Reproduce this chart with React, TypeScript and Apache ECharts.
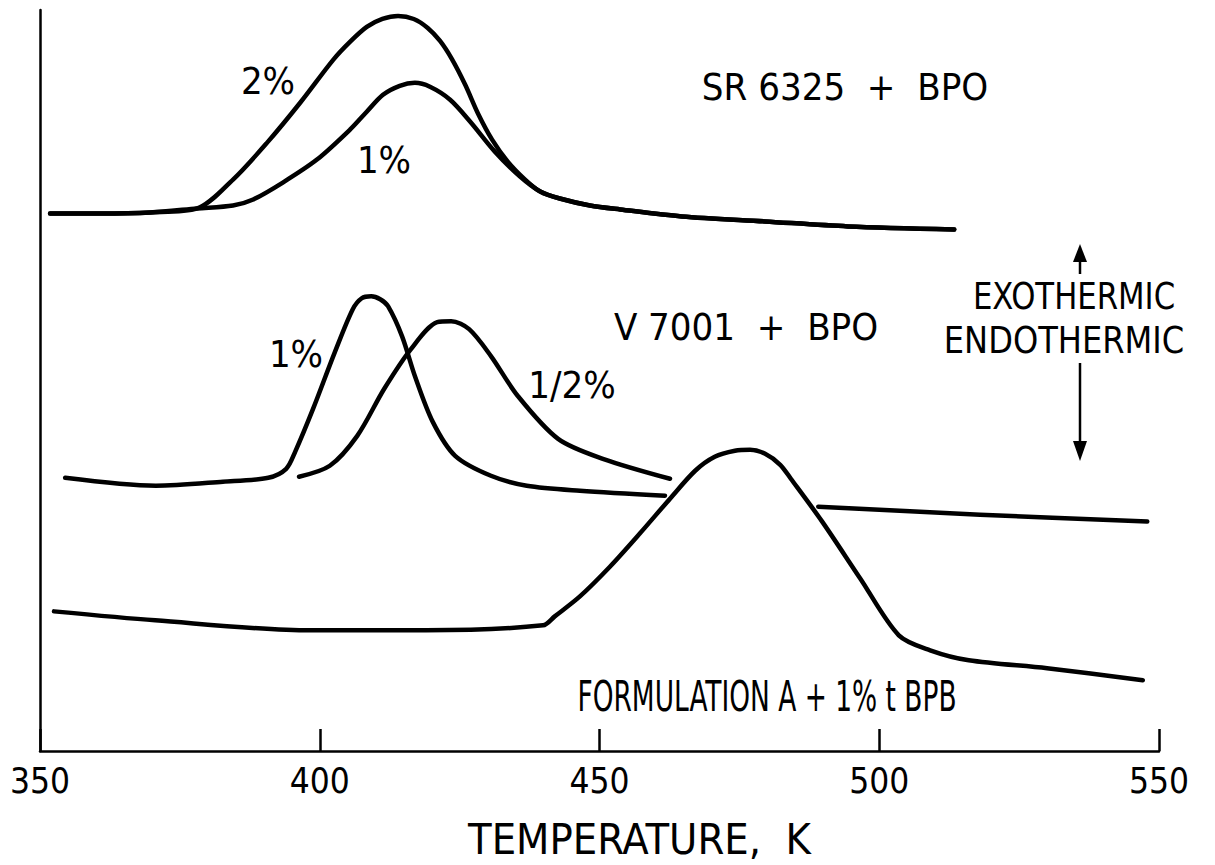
import React, { useEffect, useRef } from "react";
import * as echarts from "echarts";

// Temperature axis ticks (K)
const xTicks = [350, 400, 450, 500, 550];

// SR 6325 + BPO, 2% and 1%  [temperature K, deflection (arb. units)]
const sr2: number[][] = [
  [351.8, 539], [360.7, 539], [369.7, 540], [378.1, 544], [384.5, 573], [390.6, 610],
  [396.5, 650], [402.4, 693], [405.4, 711], [408.4, 726], [411.2, 734], [414.0, 737],
  [416.8, 734], [419.3, 725], [421.5, 712], [423.6, 694], [426.0, 668], [428.3, 639],
  [430.8, 613], [433.6, 591], [436.7, 573], [439.4, 561],
  [442.9, 554], [448.3, 547], [453.7, 543], [464.7, 536], [479.6, 531], [494.4, 526], [513.4, 523],
];
const sr1: number[][] = [
  [351.8, 539], [360.7, 539], [369.7, 540], [378.1, 544], [384.5, 547], [388.1, 553],
  [393.4, 570], [399.5, 593], [405.4, 623], [408.4, 641], [411.3, 658], [414.3, 667],
  [417.0, 670], [419.7, 666], [423.3, 653], [426.9, 631], [431.3, 601], [435.8, 576],
  [439.4, 561],
  [442.9, 554], [448.3, 547], [453.7, 543], [464.7, 536], [479.6, 531], [494.4, 526], [513.4, 523],
];

// V 7001 + BPO, 1% and 1/2%
const v1: number[][] = [
  [354.5, 274], [370.7, 266], [382.7, 270], [390.8, 274], [394.0, 283], [395.6, 300],
  [398.8, 343], [402.7, 400], [405.9, 443], [407.5, 454], [409.2, 456], [410.8, 453],
  [412.2, 446], [414.7, 416], [417.0, 376], [420.2, 330], [424.2, 296], [430.6, 276],
  [437.0, 266], [446.5, 261], [461.7, 256],
];
const vHalf: number[][] = [
  [396.3, 275], [401.8, 286], [406.7, 316], [411.5, 363], [416.3, 403], [421.0, 430],
  [423.5, 431], [426.7, 423], [430.6, 396], [435.4, 356], [442.6, 313], [450.6, 293],
  [462.6, 273],
];
const vTail: number[][] = [[489.1, 245], [518.0, 237], [547.9, 230]];

// Formulation A + 1% t BPB
const formA: number[][] = [
  [352.5, 140], [370.6, 131], [398.3, 121], [419.0, 121], [439.9, 126], [442.0, 135],
  [446.5, 155], [451.9, 185], [457.2, 218], [462.6, 253], [467.1, 281], [470.6, 295],
  [474.2, 301], [476.9, 302], [479.6, 298], [482.3, 287], [484.2, 273], [489.8, 230],
  [496.6, 173], [503.5, 116], [509.1, 101], [516.0, 91], [530.0, 83], [547.1, 71],
];

const FONT = "'Liberation Sans Narrow', 'DejaVu Sans Condensed', 'Open Sans', sans-serif";

export default function App() {
  const ref = useRef<HTMLDivElement>(null);
  useEffect(() => {
    if (!ref.current) return;
    const chart = echarts.init(ref.current, undefined, { renderer: "svg" });
    const line = (name: string, data: number[][]) => ({
      name,
      type: "line",
      data,
      showSymbol: false,
      smooth: 0.3,
      silent: true,
      lineStyle: { color: "#000", width: 4.5, cap: "round", join: "round" },
    });
    const label = (text: string, x: number, y: number, sx = 1, size = 38) => ({
      type: "text",
      x,
      y,
      scaleX: sx,
      style: {
        text,
        fill: "#000",
        font: `${size}px ${FONT}`,
        textAlign: "center",
        textVerticalAlign: "middle",
      },
    });
    chart.setOption({
      animation: false,
      backgroundColor: "#fff",
      grid: { left: 40, right: 56, top: 10, bottom: 112, containLabel: false },
      xAxis: {
        type: "value",
        min: xTicks[0],
        max: xTicks[xTicks.length - 1],
        interval: 50,
        name: "TEMPERATURE,  K",
        nameLocation: "middle",
        nameGap: 66,
        nameTextStyle: { color: "#000", fontSize: 43, fontFamily: FONT, padding: [0, 0, 0, 80] },
        axisLine: { lineStyle: { color: "#000", width: 2.5 } },
        axisTick: { inside: true, length: 22, lineStyle: { color: "#000", width: 2.5 } },
        axisLabel: { color: "#000", fontSize: 35, fontFamily: FONT, margin: 12 },
        splitLine: { show: false },
      },
      yAxis: {
        type: "value",
        min: 0,
        max: 743,
        axisLine: { show: true, lineStyle: { color: "#000", width: 2.5 } },
        axisTick: { show: false },
        axisLabel: { show: false },
        splitLine: { show: false },
      },
      series: [
        line("SR 6325 + BPO 2%", sr2),
        line("SR 6325 + BPO 1%", sr1),
        line("V 7001 + BPO 1%", v1),
        line("V 7001 + BPO 1/2%", vHalf),
        line("V 7001 + BPO baseline", vTail),
        line("FORMULATION A + 1% t BPB", formA),
      ],
      graphic: [
        label("2%", 268, 81),
        label("1%", 384, 160),
        label("SR 6325  +  BPO", 845, 87),
        label("V 7001  +  BPO", 746, 327),
        label("1%", 296, 354),
        label("1/2%", 572, 385),
        label("EXOTHERMIC", 1074, 296, 0.9),
        label("ENDOTHERMIC", 1064, 340, 0.94),
        label("FORMULATION A + 1% t BPB", 767, 697, 0.7, 42),
        { type: "line", shape: { x1: 1080, y1: 258, x2: 1080, y2: 274 }, style: { stroke: "#000", lineWidth: 2.5 } },
        { type: "polygon", shape: { points: [[1080, 244], [1073, 262], [1087, 262]] }, style: { fill: "#000" } },
        { type: "line", shape: { x1: 1080, y1: 363, x2: 1080, y2: 445 }, style: { stroke: "#000", lineWidth: 2.5 } },
        { type: "polygon", shape: { points: [[1080, 461], [1073, 441], [1087, 441]] }, style: { fill: "#000" } },
      ],
    });
    return () => chart.dispose();
  }, []);
  return (
    <div
      ref={ref}
      style={{ position: "fixed", left: 0, top: 0, width: 1215, height: 865, background: "#fff" }}
    />
  );
}
